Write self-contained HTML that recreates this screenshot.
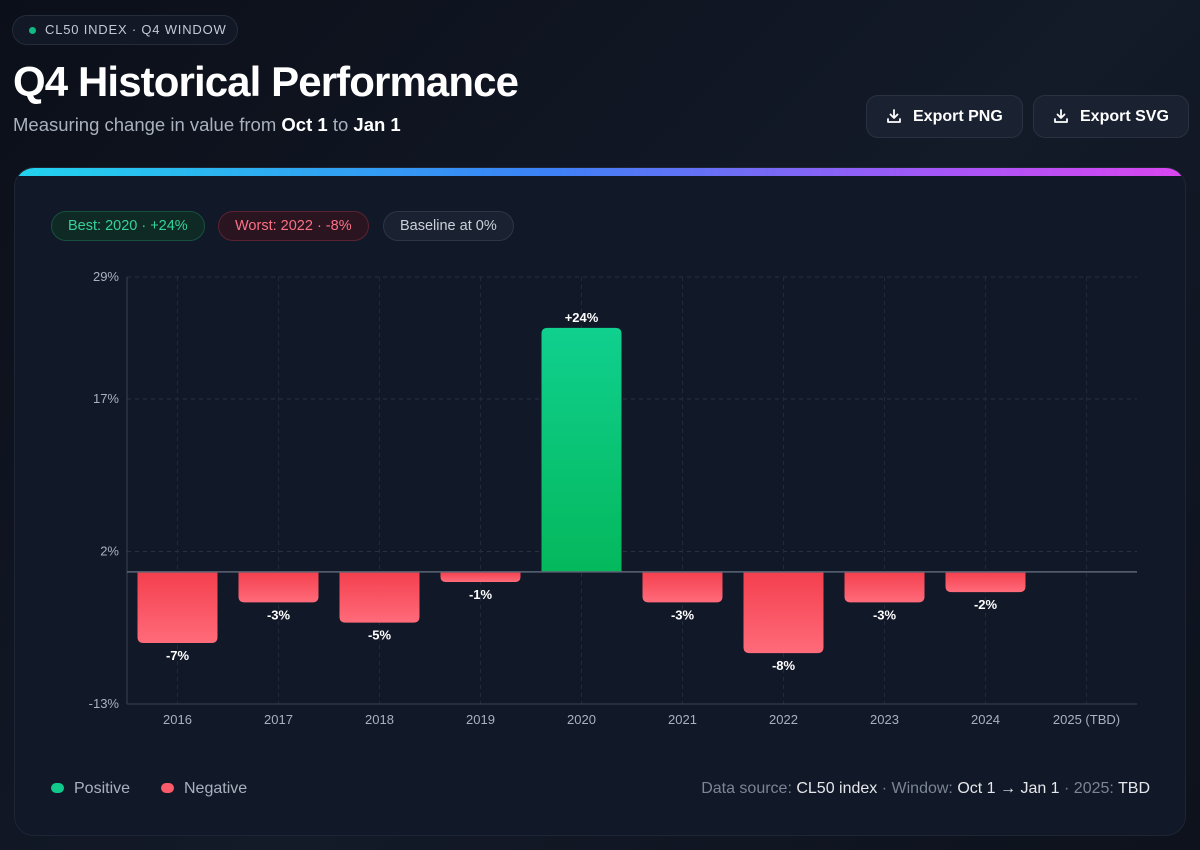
<!DOCTYPE html>
<html><head><meta charset="utf-8">
<style>
*{box-sizing:border-box;margin:0;padding:0}
body{width:1200px;height:850px;overflow:hidden;background:linear-gradient(135deg,#0b0f19 0%,#131a28 55%,#0d121c 100%);font-family:"Liberation Sans",sans-serif;color:#e5e7eb;position:relative}
.pill{position:absolute;left:12px;top:15px;height:30px;width:226px;border:1px solid #252c3a;border-radius:15px;background:#121826;font-size:13px;letter-spacing:0.8px;color:#c4c9d4;padding-left:32px;line-height:28px}
.pill:before{content:"";position:absolute;left:16px;top:11px;width:7px;height:7px;border-radius:50%;background:#10b981}
h1{position:absolute;left:13px;top:58px;font-size:42px;font-weight:700;color:#fff;letter-spacing:-0.9px}
.sub{position:absolute;left:13px;top:114px;font-size:18.5px;color:#aab1be}
.sub b{color:#fff}
.btn{position:absolute;top:95px;height:43px;border:1px solid #2a3242;border-radius:12px;background:#1a2130;color:#fff;font-weight:700;font-size:16px;line-height:41px;padding-left:46px}
.btn svg{position:absolute;left:19px;top:12px}
.card{position:absolute;left:14px;top:167px;width:1172px;height:669px;border-radius:20px;background:#111827;border:1px solid #1e2534;overflow:hidden}
.stripe{position:absolute;left:0;top:0;width:100%;height:8px;background:linear-gradient(90deg,#22d3ee,#3b82f6 45%,#a855f7 80%,#d946ef)}
.tag{position:absolute;top:211px;height:30px;border-radius:15px;font-size:14.5px;line-height:28px;padding:0 16px}
.leg{position:absolute;top:780px;font-size:16px;color:#aab1be}
.leg i{position:absolute;left:-23px;top:3px;width:13px;height:10px;border-radius:5px}
.src{position:absolute;right:50px;top:780px;font-size:16px;color:#7c8595}
.src b{font-weight:400;color:#e5e7eb}
</style></head><body>
<div class="pill">CL50 INDEX · Q4 WINDOW</div>
<h1>Q4 Historical Performance</h1>
<div class="sub">Measuring change in value from <b>Oct 1</b> to <b>Jan 1</b></div>
<div class="btn" style="left:866px;width:157px"><svg width="16" height="16" viewBox="0 0 16 16" fill="none" stroke="#fff" stroke-width="1.8" stroke-linecap="round" stroke-linejoin="round"><path d="M8 2v8M4.5 6.5 8 10l3.5-3.5M2 11v3h12v-3"/></svg>Export PNG</div>
<div class="btn" style="left:1033px;width:156px"><svg width="16" height="16" viewBox="0 0 16 16" fill="none" stroke="#fff" stroke-width="1.8" stroke-linecap="round" stroke-linejoin="round"><path d="M8 2v8M4.5 6.5 8 10l3.5-3.5M2 11v3h12v-3"/></svg>Export SVG</div>
<div class="card"><div class="stripe"></div></div>
<div class="tag" style="left:51px;background:#0f2a24;border:1px solid #17503f;color:#34d399">Best: 2020 · +24%</div>
<div class="tag" style="left:218px;background:#2a1420;border:1px solid #5a2334;color:#fb7185">Worst: 2022 · -8%</div>
<div class="tag" style="left:383px;background:#1a2130;border:1px solid #2e3646;color:#cbd1db">Baseline at 0%</div>
<svg id="chart" width="1200" height="850" style="position:absolute;left:0;top:0">
<defs>
<linearGradient id="gp" x1="0" y1="0" x2="0" y2="1"><stop offset="0" stop-color="#10d08f"/><stop offset="1" stop-color="#04b85c"/></linearGradient>
<linearGradient id="gn" x1="0" y1="0" x2="0" y2="1"><stop offset="0" stop-color="#f43f4e"/><stop offset="1" stop-color="#ff6b7a"/></linearGradient>
</defs>
</svg>
<div class="leg" style="left:74px"><i style="background:#10c98a"></i>Positive</div>
<div class="leg" style="left:184px"><i style="background:#fb5a6a"></i>Negative</div>
<div class="src">Data source: <b>CL50 index</b> · Window: <b>Oct 1 → Jan 1</b> · 2025: <b>TBD</b></div>
<script>
const categories=["2016","2017","2018","2019","2020","2021","2022","2023","2024","2025 (TBD)"];
const values=[-7,-3,-5,-1,24,-3,-8,-3,-2,null];
const yTicks=[29,17,2,-13];
const yMin=-13,yMax=29;
const L=127,R=1137,T=277,B=704;
const svg=document.getElementById('chart');
const NS='http://www.w3.org/2000/svg';
const y=v=>B-(v-yMin)/(yMax-yMin)*(B-T);
const band=(R-L)/categories.length;
const x=i=>L+i*band;
function mk(t,a,txt){const e=document.createElementNS(NS,t);for(const k in a)e.setAttribute(k,a[k]);if(txt!=null)e.textContent=txt;svg.appendChild(e);return e;}
yTicks.forEach(t=>{
 const g=mk('line',{x1:L,x2:R,y1:y(t),y2:y(t),stroke:'#2a3140','stroke-dasharray':'4 4'});
 
 
 const l=mk('text',{x:L-8,y:y(t)+4,'text-anchor':'end','font-size':13,fill:'#aab1be'},t+'%');
 
 
});
categories.forEach((c,i)=>{
 const cx=x(i)+band/2;
 const g=mk('line',{x1:cx,x2:cx,y1:T,y2:B,stroke:'#232a38','stroke-dasharray':'4 4'});
 
 
 const l=mk('text',{x:cx,y:B+20,'text-anchor':'middle','font-size':13,fill:'#aab1be'},c);
 
 
});
const ax=mk('line',{x1:L,x2:L,y1:T,y2:B,stroke:'#3a4252'});


const bx=mk('line',{x1:L,x2:R,y1:B,y2:B,stroke:'#3a4252'});


const bw=80;
values.forEach((v,i)=>{
 if(v==null)return;
 const bxp=x(i)+(band-bw)/2;
 const top=v>=0?y(v):y(0), h=Math.abs(y(v)-y(0));
 const r=mk('path',{fill:v>=0?'url(#gp)':'url(#gn)'});
 const rr=Math.min(6,h/2);
 if(v>=0) r.setAttribute('d',`M${bxp},${top+h}V${top+rr}Q${bxp},${top} ${bxp+rr},${top}H${bxp+bw-rr}Q${bxp+bw},${top} ${bxp+bw},${top+rr}V${top+h}Z`);
 else r.setAttribute('d',`M${bxp},${top}V${top+h-rr}Q${bxp},${top+h} ${bxp+rr},${top+h}H${bxp+bw-rr}Q${bxp+bw},${top+h} ${bxp+bw},${top+h-rr}V${top}Z`);
 
 
 const ly=v>=0?y(v)-6:y(v)+17;
 const t=mk('text',{x:bxp+bw/2,y:ly,'text-anchor':'middle','font-size':13,'font-weight':700,fill:'#fff'},(v>0?'+':'')+v+'%');
 
 
});
const z=mk('line',{x1:L,x2:R,y1:y(0),y2:y(0),stroke:'#5b6575','stroke-width':1.5});


</script>
</body></html>
